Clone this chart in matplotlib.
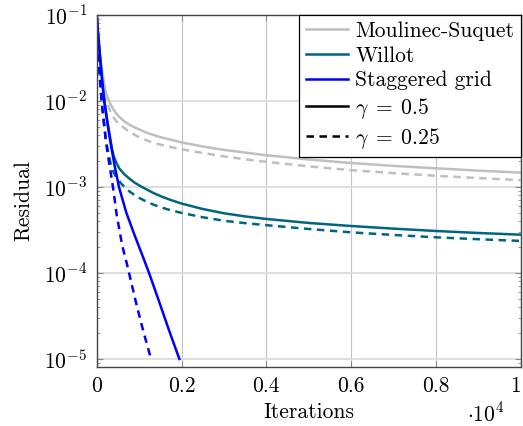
import matplotlib
matplotlib.use("Agg")
import matplotlib.pyplot as plt
from matplotlib.lines import Line2D
import numpy as np

plt.rcParams['font.family'] = 'serif'
plt.rcParams['font.serif'] = ['cmr10']
plt.rcParams['mathtext.fontset'] = 'cm'
plt.rcParams['axes.unicode_minus'] = False

# Moulinec-Suquet
ms_05_it = [0, 10, 25, 50, 80, 120, 170, 219, 300, 380, 455, 550, 650, 769, 900, 1000, 1163, 1500, 2000, 2500, 3000, 4000, 5000, 6000, 7000, 8000, 9000, 10000]
ms_05_r = [1e-1, 8e-2, 6.2e-2, 4.5e-2, 3.3e-2, 2.45e-2, 1.65e-2, 1.25e-2, 9.7e-3, 8.2e-3, 7.2e-3, 6.4e-3, 5.8e-3, 5.3e-3, 4.92e-3, 4.68e-3, 4.3e-3, 3.8e-3, 3.3e-3, 2.96e-3, 2.7e-3, 2.34e-3, 2.09e-3, 1.9e-3, 1.76e-3, 1.65e-3, 1.55e-3, 1.47e-3]
ms_025_it = [0, 10, 25, 50, 80, 120, 170, 230, 300, 377, 480, 613, 769, 950, 1163, 1400, 1700, 2012, 2342, 3000, 3500, 4000, 5000, 6000, 7000, 8000, 9000, 10000]
ms_025_r = [1e-1, 6.8e-2, 4.6e-2, 3.2e-2, 2.4e-2, 1.75e-2, 1.3e-2, 1.0e-2, 8.0e-3, 6.6e-3, 5.7e-3, 5.0e-3, 4.4e-3, 3.9e-3, 3.5e-3, 3.2e-3, 2.95e-3, 2.74e-3, 2.56e-3, 2.27e-3, 2.1e-3, 1.96e-3, 1.74e-3, 1.57e-3, 1.45e-3, 1.35e-3, 1.27e-3, 1.2e-3]

# Willot
wi_05_it = [0, 40, 90, 130, 172, 250, 300, 330, 360, 400, 450, 533, 650, 769, 900, 1000, 1163, 1350, 1557, 1750, 2000, 2500, 3000, 3500, 4000, 5000, 6000, 7000, 8000, 9000, 10000]
wi_05_r = [1e-1, 5.5e-2, 2.8e-2, 1.7e-2, 1.08e-2, 5.9e-3, 4.2e-3, 3.4e-3, 2.8e-3, 2.3e-3, 1.98e-3, 1.64e-3, 1.41e-3, 1.255e-3, 1.12e-3, 1.045e-3, 9.45e-4, 8.46e-4, 7.65e-4, 7.05e-4, 6.42e-4, 5.55e-4, 4.95e-4, 4.55e-4, 4.25e-4, 3.82e-4, 3.52e-4, 3.28e-4, 3.08e-4, 2.92e-4, 2.79e-4]
wi_025_it = [0, 30, 70, 120, 170, 219, 280, 337, 377, 450, 573, 769, 950, 1163, 1350, 1557, 1729, 2000, 2500, 3000, 3500, 4000, 5000, 6000, 7000, 8000, 9000, 10000]
wi_025_r = [1e-1, 4.5e-2, 2.0e-2, 9.5e-3, 5.6e-3, 3.5e-3, 2.4e-3, 1.8e-3, 1.55e-3, 1.33e-3, 1.1e-3, 8.9e-4, 7.7e-4, 6.8e-4, 6.2e-4, 5.72e-4, 5.4e-4, 5.0e-4, 4.45e-4, 4.05e-4, 3.8e-4, 3.6e-4, 3.25e-4, 2.97e-4, 2.77e-4, 2.6e-4, 2.47e-4, 2.36e-4]

# Staggered grid
sg_05_it = [0, 40, 90, 130, 172, 250, 330, 420, 525, 700, 900, 1100, 1235, 1450, 1700, 1950]
sg_05_r = [1e-1, 5.5e-2, 2.8e-2, 1.7e-2, 1.05e-2, 5.6e-3, 3.2e-3, 1.8e-3, 1.0e-3, 5.0e-4, 2.7e-4, 1.5e-4, 1.0e-4, 5.0e-5, 2.2e-5, 1.0e-5]
sg_025_it = [0, 30, 70, 120, 170, 219, 280, 337, 400, 470, 600, 708, 820, 943, 1100, 1270]
sg_025_r = [1e-1, 4.5e-2, 2.0e-2, 9.5e-3, 5.6e-3, 3.3e-3, 2.1e-3, 1.4e-3, 8.8e-4, 4.8e-4, 2.1e-4, 1.3e-4, 7.6e-5, 4.2e-5, 2.1e-5, 1.05e-5]

x_ticks = [0, 0.2, 0.4, 0.6, 0.8, 1.0]
x_tick_labels = ["0", "0.2", "0.4", "0.6", "0.8", "1"]
y_ticks = [1e-5, 1e-4, 1e-3, 1e-2, 1e-1]
y_tick_labels = [r"$10^{-5}$", r"$10^{-4}$", r"$10^{-3}$", r"$10^{-2}$", r"$10^{-1}$"]

c_ms = '#bfbfbf'
c_wi = '#00667f'
c_sg = '#0000ff'
lw = 1.8
dash = (0, (3, 2.2))
fs = 15.5

fig = plt.figure(figsize=(5.23, 4.26), dpi=100)
ax = fig.add_axes([96.7/523, 59/426, 424/523, 352/426])

scale = 1e4
ax.plot(np.array(ms_05_it)/scale, ms_05_r, color=c_ms, lw=lw)
ax.plot(np.array(ms_025_it)/scale, ms_025_r, color=c_ms, lw=lw, linestyle=dash)
ax.plot(np.array(wi_05_it)/scale, wi_05_r, color=c_wi, lw=lw)
ax.plot(np.array(wi_025_it)/scale, wi_025_r, color=c_wi, lw=lw, linestyle=dash)
ax.plot(np.array(sg_05_it)/scale, sg_05_r, color=c_sg, lw=lw)
ax.plot(np.array(sg_025_it)/scale, sg_025_r, color=c_sg, lw=lw, linestyle=dash)

ax.set_yscale('log')
ax.set_xlim(0, 1)
ax.set_ylim(10**-5.093, 1e-1)
ax.set_xticks(x_ticks)
ax.set_xticklabels(x_tick_labels)
ax.get_xticklabels()[-1].set_horizontalalignment('right')
ax.set_yticks(y_ticks)
ax.set_yticklabels(y_tick_labels)
ax.yaxis.set_minor_locator(matplotlib.ticker.LogLocator(base=10, subs=np.arange(2, 10)))
ax.yaxis.set_minor_formatter(matplotlib.ticker.NullFormatter())

ax.grid(True, which='major', axis='x', color='#c4c4c4', lw=0.8)
ax.grid(True, which='major', axis='y', color='#dcdcdc', lw=1.3)
ax.set_axisbelow(True)
ax.tick_params(which='both', direction='in', top=True, right=True, color='#888888', labelsize=fs)
ax.tick_params(which='major', length=4, width=0.8, pad=7)
ax.tick_params(which='minor', length=2.5, width=0.6)
for s in ax.spines.values():
    s.set_color('#444444')
    s.set_linewidth(1.0)

ax.set_xlabel("Iterations", fontsize=fs)
ax.xaxis.set_label_coords(0.5, -0.10)
ax.set_ylabel("Residual", fontsize=fs)
ax.yaxis.set_label_coords(-0.150, 0.474)
fig.text(505/523, 1 - 414/426, r"$\cdot 10^4$", fontsize=fs, ha='right', va='center')

handles = [
    Line2D([], [], color=c_ms, lw=lw),
    Line2D([], [], color=c_wi, lw=lw),
    Line2D([], [], color=c_sg, lw=lw),
    Line2D([], [], color='black', lw=lw),
    Line2D([], [], color='black', lw=lw, linestyle=dash),
]
labels = ["Moulinec-Suquet", "Willot", "Staggered grid", r"$\gamma\;=\;0.5$", r"$\gamma\;=\;0.25$"]
leg = ax.legend(handles, labels, loc='upper right', fontsize=fs, frameon=True, fancybox=False,
                borderaxespad=0, handlelength=1.95, handletextpad=0.35, labelspacing=0.24,
                borderpad=0.3)
leg.get_frame().set_edgecolor('black')
leg.get_frame().set_linewidth(0.9)
leg.get_frame().set_alpha(1)

fig.savefig("out.png", dpi=100)
